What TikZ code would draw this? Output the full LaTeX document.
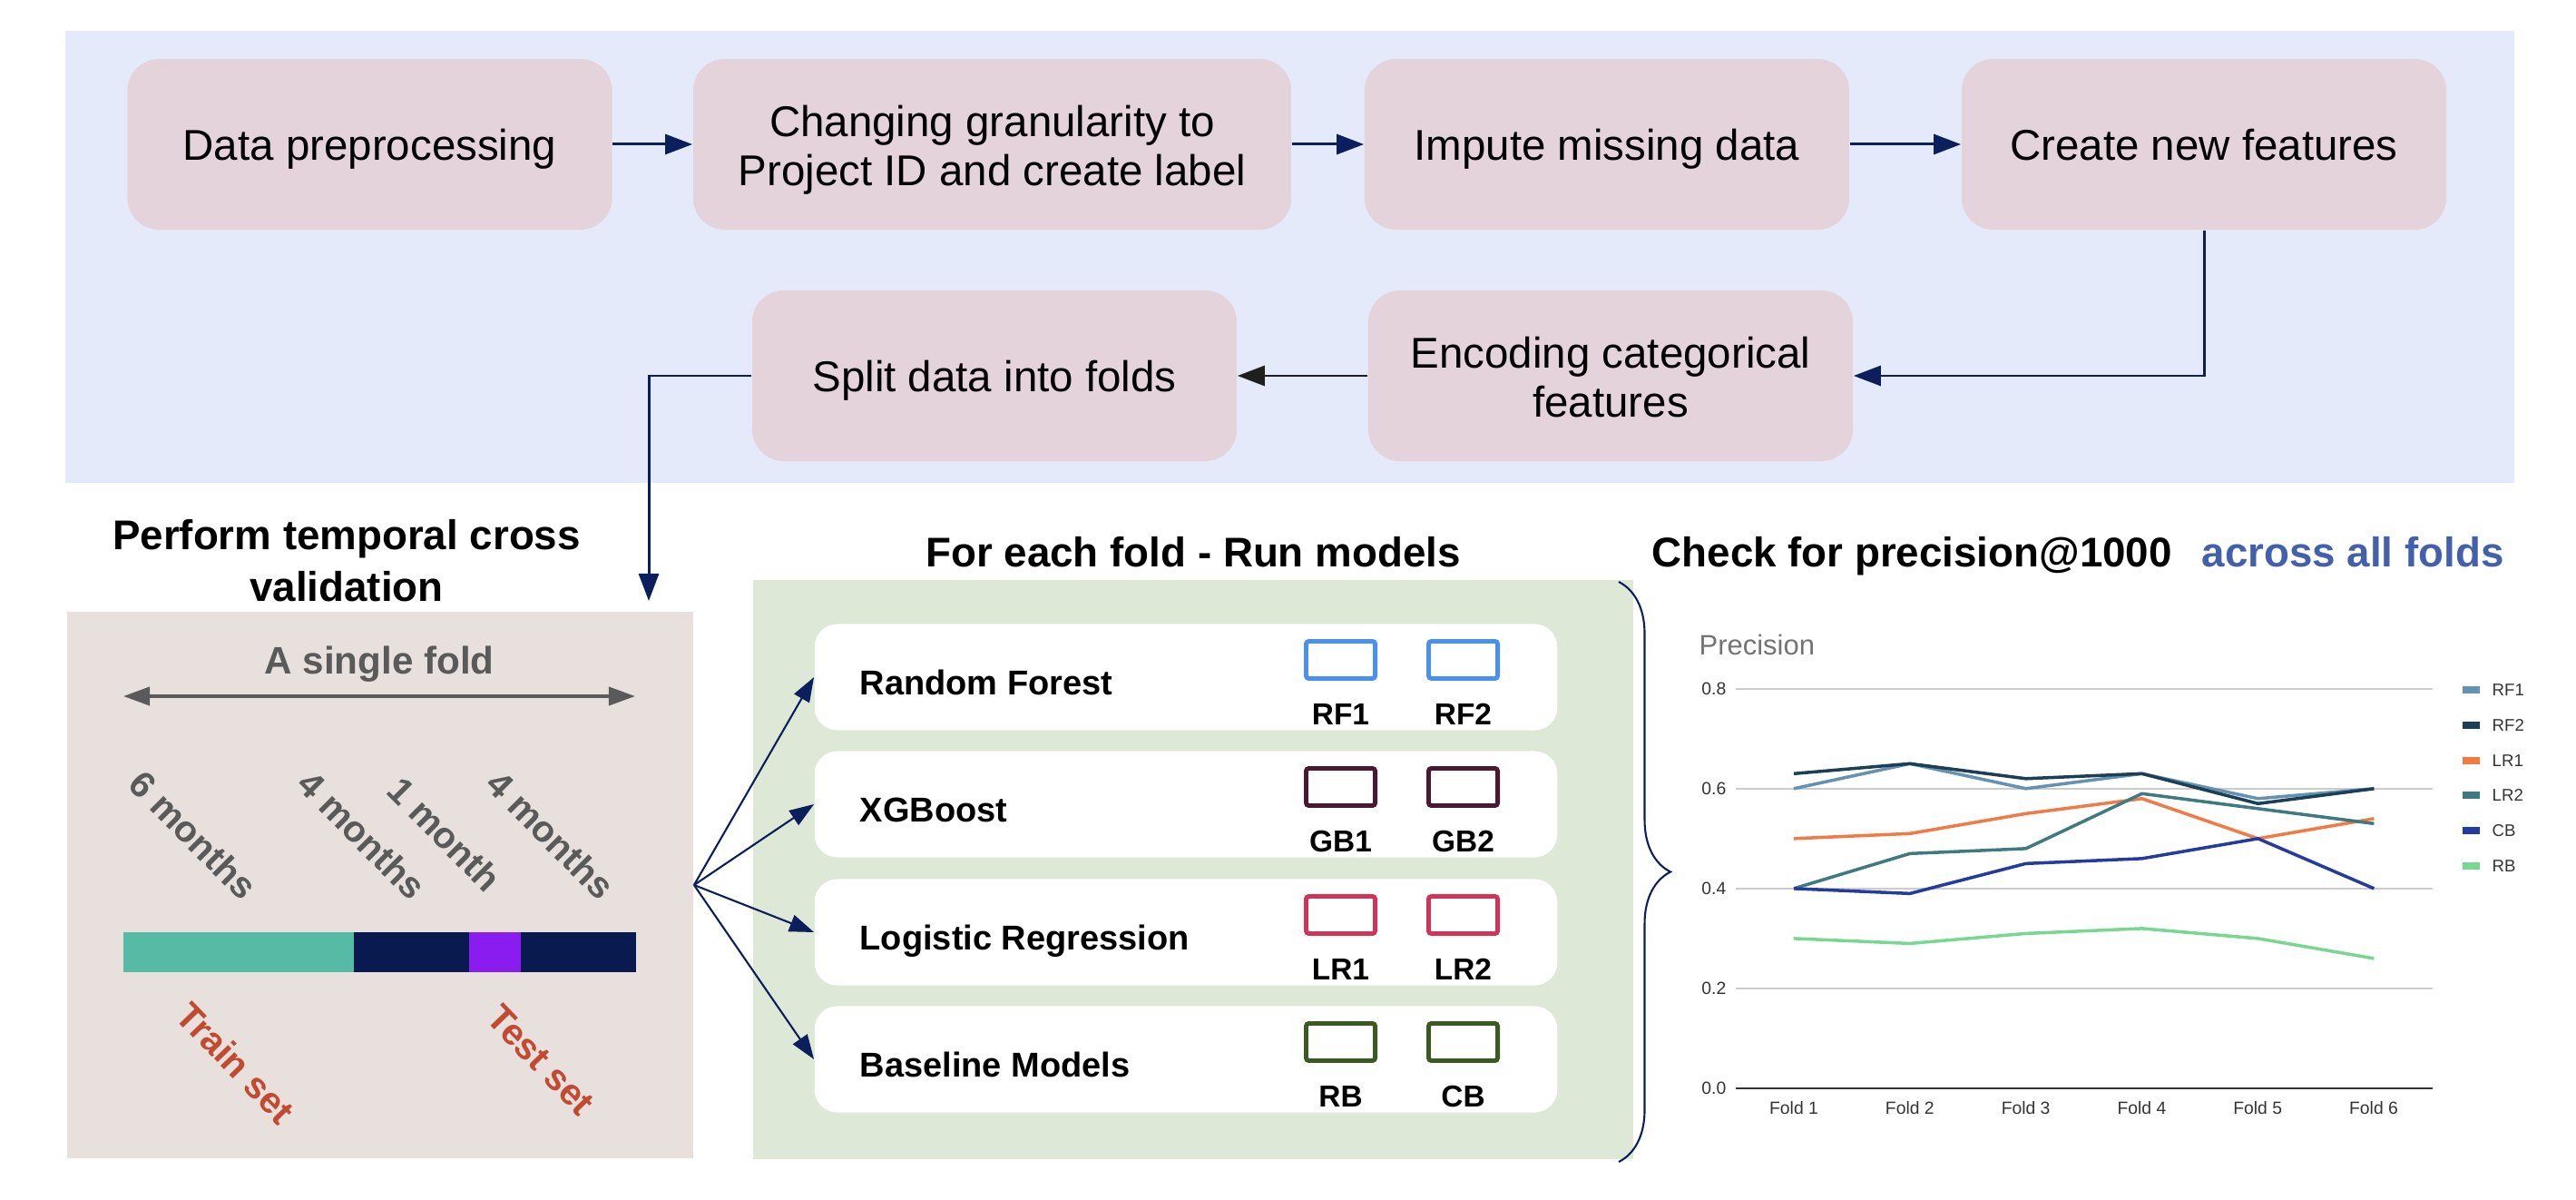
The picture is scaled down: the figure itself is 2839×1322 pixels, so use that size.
\documentclass[tikz,border=0pt]{standalone}
\usepackage{fontspec}
\setmainfont{Liberation Sans}
\usetikzlibrary{arrows.meta, decorations.pathreplacing}

\definecolor{panelblue}{HTML}{E4EAF9}
\definecolor{stagepink}{HTML}{E5D3DB}
\definecolor{flownavy}{HTML}{0B1F5C}
\definecolor{foldgray}{HTML}{E8E0DD}
\definecolor{modelgreen}{HTML}{DDE8D6}
\definecolor{labelgray}{HTML}{5A5A5A}
\definecolor{setred}{HTML}{C24A30}
\definecolor{trainteal}{HTML}{55BBA5}
\definecolor{gapnavy}{HTML}{081A50}
\definecolor{valpurple}{HTML}{8B1CF0}
\definecolor{rfblue}{HTML}{4A90F0}
\definecolor{gbmaroon}{HTML}{4A1830}
\definecolor{lrred}{HTML}{D0345A}
\definecolor{bmgreen}{HTML}{3A5A22}
\definecolor{foldsblue}{HTML}{4360AD}
\definecolor{rfone}{HTML}{6592B0}
\definecolor{rftwo}{HTML}{1B3F57}
\definecolor{lrone}{HTML}{F27A45}
\definecolor{lrtwo}{HTML}{3F7A80}
\definecolor{cbline}{HTML}{253BA0}
\definecolor{rbline}{HTML}{78D891}

\newcommand{\stagestrut}{\rule[-3pt]{0pt}{16.2pt}}
\newcommand{\topstrut}{\rule{0pt}{13.5pt}}

\begin{document}
\begin{tikzpicture}[x=0.01cm, y=-0.01cm,
    stage/.style={rectangle, rounded corners=0.35cm, fill=stagepink, minimum width=5.34cm,
      minimum height=1.88cm, inner sep=0pt, align=center, font=\fontsize{13.5}{15.6}\selectfont,
      execute at begin node=\stagestrut, execute at end node=\stagestrut},
    flow/.style={draw=flownavy, line width=0.85pt, -{Triangle[length=0.3cm, width=0.22cm]}},
    fan/.style={draw=flownavy, line width=0.6pt, -{Triangle[length=0.27cm, width=0.19cm]}},
    title/.style={inner sep=0pt, font=\fontsize{13}{16.2}\selectfont\bfseries},
    rowbox/.style={rectangle, rounded corners=0.25cm, fill=white, minimum width=8.18cm, minimum height=1.17cm},
    rowtext/.style={inner sep=0pt, font=\fontsize{10.8}{13}\selectfont\bfseries},
    mbox/.style={rectangle, rounded corners=0.03cm, line width=1.4pt, minimum width=0.76cm, minimum height=0.41cm},
    mlabel/.style={inner sep=0pt, font=\fontsize{9.5}{11}\selectfont\bfseries},
    monthtext/.style={inner sep=0pt, text=labelgray, font=\fontsize{11.5}{13}\selectfont\bfseries},
    settext/.style={inner sep=0pt, text=setred, font=\fontsize{11.5}{13}\selectfont\bfseries},
    gridline/.style={draw=black!20, line width=0.4pt},
    series/.style={line width=1pt, line join=round},
    ticktext/.style={inner sep=0pt, text=black!80, font=\fontsize{5.5}{6.5}\selectfont},
    legtext/.style={inner sep=0pt, text=black!80, font=\fontsize{5.3}{6.5}\selectfont}]

  % Canvas
  \useasboundingbox (0,0) rectangle (2839,1322);

  % Preprocessing panel
  \fill[panelblue] (72,34) rectangle (2771,532);
  \node[stage] (prep) at (407.5,159) {Data preprocessing};
  \node[stage, minimum width=6.59cm] (gran) at (1093.5,159) {\topstrut Changing granularity to\\Project ID and create label};
  \node[stage] (impute) at (1771,159) {Impute missing data};
  \node[stage] (create) at (2429,159) {Create new features};
  \node[stage] (encode) at (1775,414) {\topstrut Encoding categorical\\features};
  \node[stage] (split) at (1096,414) {Split data into folds};

  \draw[flow] (prep) -- (gran);
  \draw[flow] (gran) -- (impute);
  \draw[flow] (impute) -- (create);
  \draw[flow] (create.south) |- (encode.east);
  \draw[flow, draw=black!88] (encode.west) -- (split.east);

  % Temporal cross validation
  \node[title, align=center] (tcvtitle) at (382,618) {Perform temporal cross\\validation};
  \node[fill=foldgray, minimum width=6.9cm, minimum height=6.02cm] (fold) at (419,975) {};
  \coordinate (cvin) at (715,662);
  \draw[flow] (split.west) -| (cvin);

  \node[inner sep=0pt, text=labelgray, font=\fontsize{12}{14}\selectfont\bfseries, anchor=base] (single) at (418,742) {A single fold};
  \coordinate (spanL) at (136,767);
  \coordinate (spanR) at (700,767);
  \draw[draw=labelgray, line width=1.1pt, {Triangle[length=0.29cm, width=0.2cm]}-{Triangle[length=0.29cm, width=0.2cm]}] (spanL) -- (spanR);

  \node[monthtext, rotate=-45] (msix) at (213,920) {6 months};
  \node[monthtext, rotate=-45] (mgap) at (399,920) {4 months};
  \node[monthtext, rotate=-45] (mone) at (490,919) {1 month};
  \node[monthtext, rotate=-45] (mtest) at (607,920) {4 months};

  % Fold bar
  \fill[trainteal] (136,1027) rectangle (390,1071);
  \fill[gapnavy] (390,1027) rectangle (517,1071);
  \fill[valpurple] (517,1027) rectangle (574,1071);
  \fill[gapnavy] (574,1027) rectangle (701,1071);

  \node[settext, rotate=-46] (train) at (260,1171) {Train set};
  \node[settext, rotate=-46] (test) at (596,1168) {Test set};

  % Models
  \node[title, anchor=base] (runtitle) at (1315,625) {For each fold - Run models};
  \node[fill=modelgreen, minimum width=9.7cm, minimum height=6.38cm] (runs) at (1315,958) {};
  \foreach \y/\rid/\txt/\col/\la/\lb in {746/rf/Random Forest/rfblue/RF1/RF2,
      886/xgb/XGBoost/gbmaroon/GB1/GB2,
      1027/lr/Logistic Regression/lrred/LR1/LR2,
      1167/base/Baseline Models/bmgreen/RB/CB} {
    \node[rowbox] (\rid) at (1307,\y) {};
    \node[rowtext, anchor=base west] (\rid-txt) at (947,\y+19) {\txt};
    \node[mbox, draw=\col] (\rid-a) at (1477.5,\y-19) {};
    \node[mbox, draw=\col] (\rid-b) at (1612.5,\y-19) {};
    \node[mlabel, anchor=base] (\rid-la) at (1477.5,\y+52) {\la};
    \node[mlabel, anchor=base] (\rid-lb) at (1612.5,\y+52) {\lb};
    \draw[fan] (fold.east) -- (\rid.west);
  }
  \draw[draw=flownavy, line width=0.6pt, decorate, decoration={brace, amplitude=0.57cm}] (1784,641) -- (1784,1280);

  % Precision chart
  \node[title, anchor=base west] (chktitle) at (1820,625) {Check for precision@1000};
  \node[title, anchor=base west, text=foldsblue] (alltitle) at (2426,625) {across all folds};
  \node[inner sep=0pt, anchor=west, text=black!55, font=\fontsize{8.8}{10}\selectfont] (ylab) at (1872,710) {Precision};

  \foreach \v/\k in {0.2/2, 0.4/4, 0.6/6, 0.8/8}
    \draw[gridline] (1913,{1199-550*\v}) -- (2681,{1199-550*\v});
  \draw[draw=black!80, line width=0.55pt] (1913,1199) -- (2681,1199);
  \foreach \v/\k in {0.0/0, 0.2/2, 0.4/4, 0.6/6, 0.8/8}
    \node[ticktext, anchor=east] (tick\k) at (1903,{1199-550*\v}) {\v};
  \foreach \i in {1,...,6}
    \node[ticktext] (fold\i) at ({1977+127.8*(\i-1)},1221) {Fold \i};

  \begin{scope}[shift={(1977,1199)}, x=1.278cm, y=5.5cm]
    \draw[series, rfone] plot coordinates {(0,0.60) (1,0.65) (2,0.60) (3,0.63) (4,0.58) (5,0.60)};
    \draw[series, rftwo] plot coordinates {(0,0.63) (1,0.65) (2,0.62) (3,0.63) (4,0.57) (5,0.60)};
    \draw[series, lrone] plot coordinates {(0,0.50) (1,0.51) (2,0.55) (3,0.58) (4,0.50) (5,0.54)};
    \draw[series, lrtwo] plot coordinates {(0,0.40) (1,0.47) (2,0.48) (3,0.59) (4,0.56) (5,0.53)};
    \draw[series, cbline] plot coordinates {(0,0.40) (1,0.39) (2,0.45) (3,0.46) (4,0.50) (5,0.40)};
    \draw[series, rbline] plot coordinates {(0,0.30) (1,0.29) (2,0.31) (3,0.32) (4,0.30) (5,0.26)};
  \end{scope}

  % Legend
  \foreach \i/\col/\lab in {0/rfone/RF1, 1/rftwo/RF2, 2/lrone/LR1, 3/lrtwo/LR2, 4/cbline/CB, 5/rbline/RB} {
    \fill[\col] (2714,{756+38.8*\i}) rectangle +(19,8);
    \node[legtext, anchor=west] (leg\i) at (2746,{760+38.8*\i}) {\lab};
  }
\end{tikzpicture}
\end{document}
